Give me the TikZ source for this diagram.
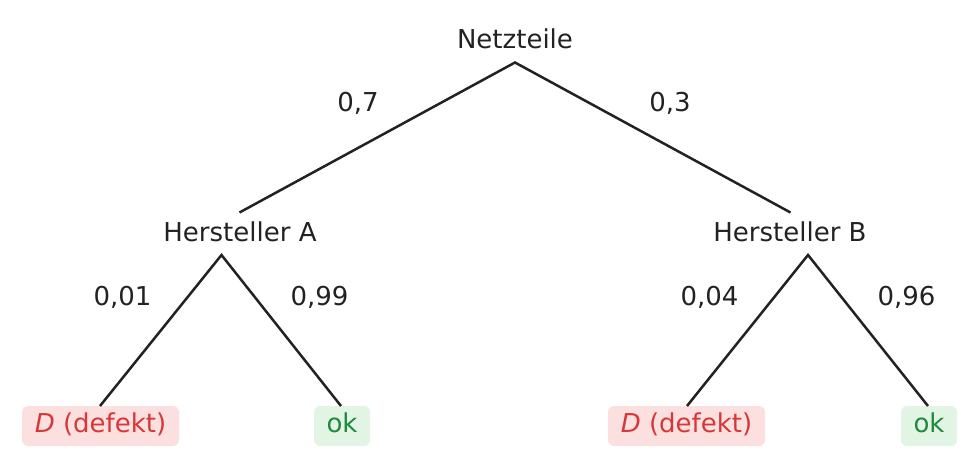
\documentclass[tikz,border=0pt]{standalone}
\usepackage{fontspec}
\setmainfont{DejaVu Sans}
\definecolor{ink}{HTML}{222222}
\definecolor{redtxt}{HTML}{D63838}
\definecolor{redfill}{HTML}{FCE0E0}
\definecolor{greentxt}{HTML}{1E8A3E}
\definecolor{greenfill}{HTML}{E2F4E3}
\begin{document}
\begin{tikzpicture}[x=1pt,y=-1pt,
  every node/.style={font=\fontsize{26}{30}\selectfont, text=ink, inner sep=0pt},
  lbl/.style={anchor=base},
  edge/.style={draw=ink, line width=2.5pt},
  leafbase/.style={rounded corners=6pt, minimum height=40pt, text height=18.5pt, text depth=5pt},
  defleaf/.style={leafbase, fill=redfill, text=redtxt, minimum width=157pt},
  okleaf/.style={leafbase, fill=greenfill, text=greentxt, minimum width=56pt}]
\useasboundingbox (0,0) rectangle (978,468);
% texts
\node[lbl] (root) at (515,48.5) {Netzteile};
\node[lbl] (ha) at (240,241.7) {Hersteller A};
\node[lbl] (hb) at (790,241.7) {Hersteller B};
\node[lbl] (p7) at (358,111.5) {0,7};
\node[lbl] (p3) at (670,111.5) {0,3};
\node[lbl] (p01) at (122.5,305) {0,01};
\node[lbl] (p99) at (319.5,305) {0,99};
\node[lbl] (p04) at (709.5,305) {0,04};
\node[lbl] (p96) at (906.5,305) {0,96};
% leaves
\node[defleaf] (da) at (100.5,426) {\textit{D} (defekt)};
\node[okleaf] (oa) at (342,426) {ok};
\node[defleaf] (db) at (686.5,426) {\textit{D} (defekt)};
\node[okleaf] (ob) at (929,426) {ok};
% connector points
\coordinate (r0) at (515,62.5);
\coordinate (aTop) at (239.5,212.5);
\coordinate (bTop) at (790.5,212.5);
\coordinate (a0) at (221.5,255);
\coordinate (b0) at (808,255);
\coordinate (daTop) at (100,406);
\coordinate (oaTop) at (341,406);
\coordinate (dbTop) at (687,406);
\coordinate (obTop) at (928,406);
% edges
\draw[edge] (aTop) -- (r0) -- (bTop);
\draw[edge] (daTop) -- (a0) -- (oaTop);
\draw[edge] (dbTop) -- (b0) -- (obTop);
\end{tikzpicture}
\end{document}
